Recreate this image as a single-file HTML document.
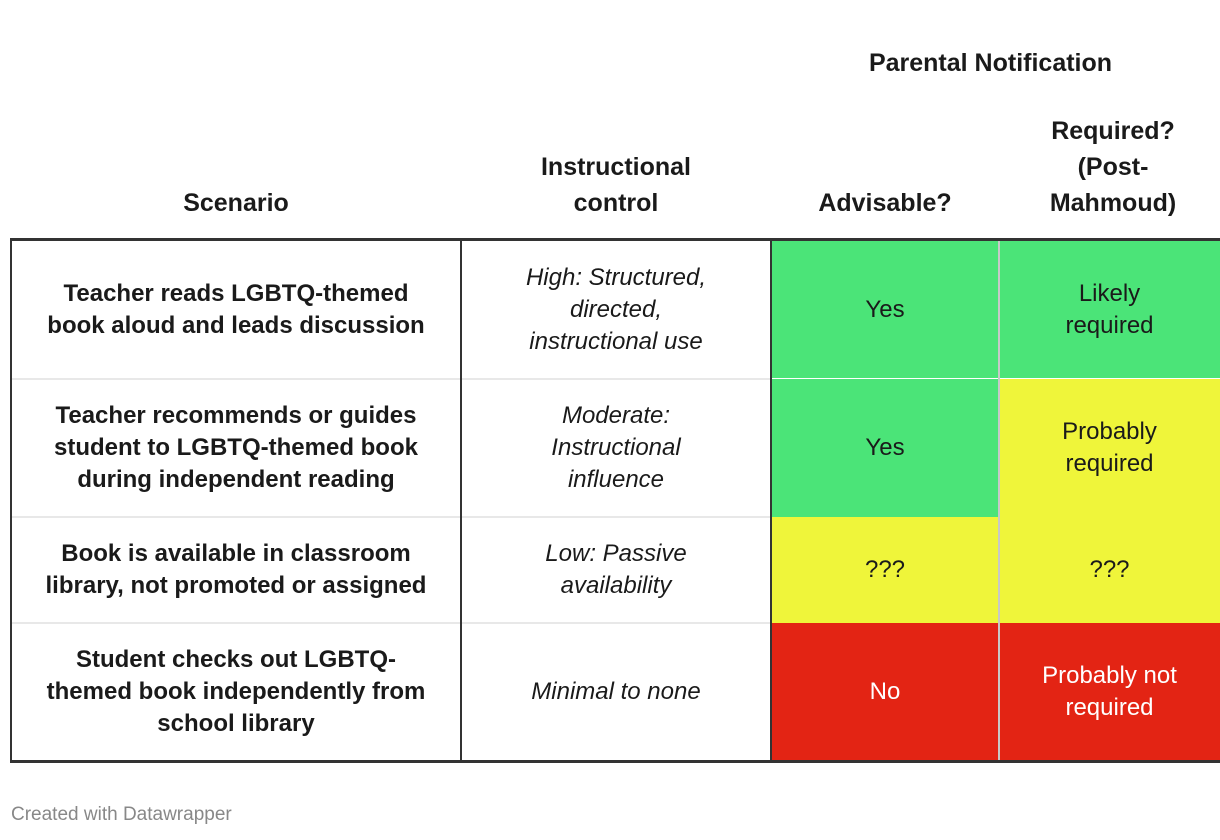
<!DOCTYPE html>
<html><head><meta charset="utf-8"><style>
body{margin:0;width:1220px;height:840px;background:#fff;font-family:"Liberation Sans",Arial,sans-serif;color:#1a1a1a;position:relative;overflow:hidden}
.a{position:absolute;box-sizing:border-box}
.c{display:flex;align-items:center;justify-content:center;text-align:center;font-size:24px;line-height:32px}
.h{font-weight:bold;font-size:25px;line-height:36px;text-align:center}
.b{font-weight:bold}
.i{font-style:italic}
</style></head><body>
<div class="a h" style="left:771px;width:439px;top:45px">Parental Notification</div>
<div class="a h" style="left:11px;width:450px;top:185px">Scenario</div>
<div class="a h" style="left:461px;width:310px;top:149px">Instructional<br>control</div>
<div class="a h" style="left:771px;width:228px;top:185px">Advisable?</div>
<div class="a h" style="left:999px;width:228px;top:113px">Required?<br>(Post-<br>Mahmoud)</div>

<div class="a" style="left:10px;width:1210px;top:238px;height:3px;background:#333"></div>

<!-- rows -->
<div class="a c b" style="left:11px;width:450px;top:241px;height:137px">Teacher reads LGBTQ-themed<br>book aloud and leads discussion</div>
<div class="a c i" style="left:461px;width:310px;top:241px;height:137px">High: Structured,<br>directed,<br>instructional use</div>
<div class="a c" style="left:771px;width:228px;top:241px;height:137px;background:#4be478">Yes</div>
<div class="a c" style="left:999px;width:221px;top:241px;height:137px;background:#4be478">Likely<br>required</div>

<div class="a c b" style="left:11px;width:450px;top:379px;height:137px">Teacher recommends or guides<br>student to LGBTQ-themed book<br>during independent reading</div>
<div class="a c i" style="left:461px;width:310px;top:379px;height:137px">Moderate:<br>Instructional<br>influence</div>
<div class="a c" style="left:771px;width:228px;top:379px;height:138px;background:#4be478">Yes</div>
<div class="a c" style="left:999px;width:221px;top:379px;height:138px;background:#eff53a">Probably<br>required</div>

<div class="a c b" style="left:11px;width:450px;top:517px;height:105px">Book is available in classroom<br>library, not promoted or assigned</div>
<div class="a c i" style="left:461px;width:310px;top:517px;height:105px">Low: Passive<br>availability</div>
<div class="a c" style="left:771px;width:228px;top:517px;height:106px;background:#eff53a">???</div>
<div class="a c" style="left:999px;width:221px;top:517px;height:106px;background:#eff53a">???</div>

<div class="a c b" style="left:11px;width:450px;top:623px;height:137px">Student checks out LGBTQ-<br>themed book independently from<br>school library</div>
<div class="a c i" style="left:461px;width:310px;top:623px;height:137px">Minimal to none</div>
<div class="a c" style="left:771px;width:228px;top:623px;height:137px;background:#e32414;color:#fff">No</div>
<div class="a c" style="left:999px;width:221px;top:623px;height:137px;background:#e32414;color:#fff">Probably not<br>required</div>

<!-- row separators -->
<div class="a" style="left:10px;width:761px;top:378px;height:2px;background:#e8e8e8"></div>
<div class="a" style="left:10px;width:761px;top:516px;height:2px;background:#e8e8e8"></div>
<div class="a" style="left:10px;width:761px;top:622px;height:2px;background:#e8e8e8"></div>

<!-- vertical lines -->
<div class="a" style="left:10px;width:2px;top:241px;height:520px;background:#333"></div>
<div class="a" style="left:460px;width:2px;top:241px;height:520px;background:#333"></div>
<div class="a" style="left:770px;width:2px;top:241px;height:520px;background:#333"></div>
<div class="a" style="left:998px;width:2px;top:241px;height:520px;background:#c8c8c8"></div>

<div class="a" style="left:10px;width:1210px;top:760px;height:3px;background:#333"></div>

<div class="a" style="left:11px;top:804px;font-size:19px;color:#888">Created with Datawrapper</div>
</body></html>
